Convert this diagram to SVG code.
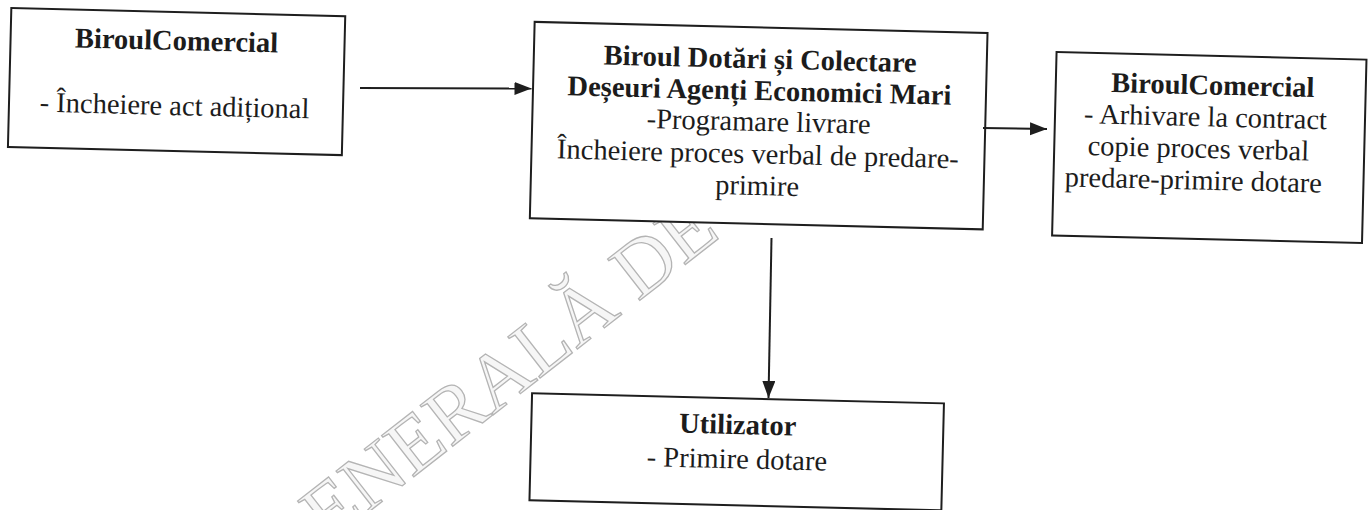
<svg xmlns="http://www.w3.org/2000/svg" width="1369" height="510" viewBox="0 0 1369 510">
<style>
.box{fill:#ffffff;stroke:#1e1e1e;stroke-width:2}
.t{font-family:"Liberation Serif","Times New Roman",serif;font-size:28.5px;fill:#1c1c1c;text-anchor:middle}
.b{font-weight:bold}
.wm{font-family:"Liberation Serif","Times New Roman",serif;font-size:80px;fill:#f6f6f6;stroke:#b4b4b4;stroke-width:1.3;text-anchor:end}
.c{stroke:#1e1e1e;stroke-width:2;fill:none}
</style>
<defs>
<marker id="ah" markerUnits="userSpaceOnUse" markerWidth="18" markerHeight="14" refX="17" refY="6.5" orient="auto">
<path d="M0,0 L17,6.5 L0,13 z" fill="#1e1e1e"/>
</marker>
</defs>
<rect x="0" y="0" width="1369" height="510" fill="#ffffff"/>
<text class="wm" transform="translate(722,236) rotate(-38)">ENERALĂ DE</text>
<g transform="rotate(1.4 684 255)">
<g id="n1">
<rect class="box" x="5.5" y="24.5" width="334" height="139"/>
<text class="t b" x="171.5" y="62.4">BiroulComercial</text>
<text class="t" x="171" y="127.5">- Încheiere act adițional</text>
</g>
<g id="n2">
<rect class="box" x="529" y="25.6" width="453" height="196.5"/>
<text class="t b" x="755.4" y="66.5">Biroul Dotări și Colectare</text>
<text class="t b" x="755.4" y="98.2">Deșeuri Agenți Economici Mari</text>
<text class="t" x="755.4" y="129">-Programare livrare</text>
<text class="t" x="755.4" y="161.5">Încheiere proces verbal de predare-</text>
<text class="t" x="755.4" y="193.2">primire</text>
</g>
<g id="n3">
<rect class="box" x="1051.5" y="43" width="310" height="183.5"/>
<text class="t b" x="1208.6" y="81.7">BiroulComercial</text>
<text class="t" x="1202" y="113.5">- Arhivare la contract</text>
<text class="t" x="1195.6" y="145.2">copie proces verbal</text>
<text class="t" x="1191.4" y="177">predare-primire dotare</text>
</g>
<g id="n4">
<rect class="box" x="535.5" y="397" width="412" height="107"/>
<text class="t b" x="741.9" y="432.7">Utilizator</text>
<text class="t" x="741.9" y="467">- Primire dotare</text>
</g>
</g>
<g id="connectors">
<line class="c" x1="360" y1="88" x2="531.5" y2="88.5" marker-end="url(#ah)"/>
<line class="c" x1="983" y1="128" x2="1047" y2="129" marker-end="url(#ah)"/>
<line class="c" x1="771.5" y1="238" x2="768.5" y2="398" marker-end="url(#ah)"/>
</g>
</svg>
